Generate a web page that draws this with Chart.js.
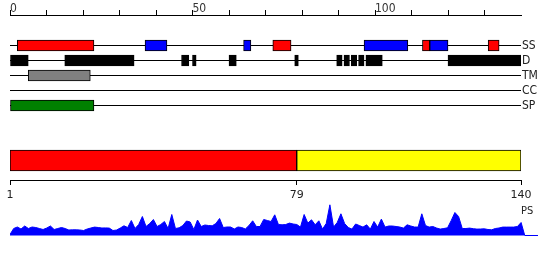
<!DOCTYPE html>
<html>
<head>
<meta charset="utf-8">
<script src="https://cdn.jsdelivr.net/npm/chart.js"></script>
<style>
  body { margin: 0; background: #fff; }
  #wrap { position: relative; width: 550px; height: 260px; }
  #wrap canvas { position: absolute; left: 0; }
  #psLabel { position: absolute; left: 521px; top: 205px; font: 11px 'DejaVu Sans Condensed', 'DejaVu Sans'; color: #222; line-height: 12px; }
</style>
</head>
<body>
<div id="wrap">
  <canvas id="tracks" width="550" height="120" style="top:0"></canvas>
  <canvas id="domains" width="550" height="65" style="top:140px"></canvas>
  <canvas id="ps" width="550" height="40" style="top:196px"></canvas>
  <div id="psLabel">PS</div>
</div>
<script>
// feature tracks (positions along the sequence)
const trackNames = ['SS', 'D', 'TM', 'CC', 'SP']
const ssSegments = [[2, 23], [37, 43], [64, 66], [72, 77], [97, 109], [113, 115], [115, 120], [131, 134]]
const ssColors = ['#ff0000', '#0000ff', '#0000ff', '#ff0000', '#0000ff', '#ff0000', '#0000ff', '#ff0000']
const dSegments = [[0, 5], [15, 34], [47, 49], [50, 51], [60, 62], [78, 79], [89.5, 91], [91.5, 93], [93.5, 95], [95.5, 97], [97.5, 102], [120, 140]]
const tmSegments = [[5, 22]]
const ccSegments = []
const spSegments = [[0, 23]]
const topTickValues = [0, 10, 20, 30, 40, 50, 60, 70, 80, 90, 100, 110, 120, 130]
const topLabelValues = [0, 50, 100]

// domain bar
const domainSegments = [[1, 79], [79, 140]]
const domainColors = ['#ff0000', '#ffff00']
const domainTicks = [1, 79, 140]

// PS profile, one value per residue 1..140
const psValues = [
  1, 7, 8.5, 6.5, 9.5, 7, 8.5, 8, 7, 6,
  7.5, 9.5, 6, 7, 8, 7, 5.5, 5.7, 5.7, 5.5,
  5, 6.5, 7.5, 8.4, 8, 7.5, 7.6, 7.4, 5, 5.5,
  7.5, 9.7, 8, 15, 7, 11, 19, 9, 12, 16,
  9, 11, 14, 7, 21, 7, 7.7, 10, 14.5, 13.5,
  6, 15.5, 9, 10.5, 10, 9.7, 12, 17, 8, 8.5,
  8.5, 6.5, 8.5, 8, 6.5, 10, 14.7, 9, 9, 16,
  15, 14, 20.7, 11, 10.7, 11, 12.4, 11.5, 11, 8.4,
  21, 12.4, 15.7, 10.7, 14.7, 6.4, 12, 30.7, 8.4, 13,
  21.7, 12, 8, 6.4, 11.5, 10, 8.4, 10.7, 6.4, 14,
  8.4, 16.4, 8.4, 9.5, 9.5, 9, 8.5, 7.4, 10.7, 9.5,
  8.5, 8.4, 21.7, 10, 8.4, 9, 7.5, 6.4, 7, 7.7,
  15, 23, 19, 7, 7, 7.4, 6.8, 6.4, 6.5, 6.7,
  6, 5.7, 7, 7.5, 8.4, 8.4, 8.4, 8.4, 9, 13
]
const psTail = [[141, 0], [144.6, 0]]

Chart.defaults.font.family = "'DejaVu Sans Condensed', 'DejaVu Sans', sans-serif"
Chart.defaults.animation = false
Chart.defaults.plugins.legend.display = false
Chart.defaults.plugins.tooltip.enabled = false

let tracks = [
  { segs: ssSegments, colors: ssColors },
  { segs: dSegments, colors: dSegments.map(() => '#000000') },
  { segs: tmSegments, colors: ['#808080'] },
  { segs: ccSegments, colors: [] },
  { segs: spSegments, colors: ['#008000'] }
]
let trackData = []
let trackColors = []
tracks.forEach((t, row) => {
  t.segs.forEach((s, i) => {
    trackData.push({ x: s, y: row })
    trackColors.push(t.colors[i])
  })
})

// drop the label overhang padding so the plot area stays where we put it
function noPad(s) {
  s.paddingTop = 0
  s.paddingBottom = 0
  s.paddingLeft = 0
  s.paddingRight = 0
}

new Chart(document.getElementById('tracks'), {
  type: 'bar',
  data: {
    datasets: [{
      data: trackData,
      backgroundColor: trackColors,
      borderColor: '#000',
      borderWidth: 1,
      borderSkipped: false,
      barThickness: 11
    }]
  },
  options: {
    responsive: false,
    devicePixelRatio: 1,
    indexAxis: 'y',
    layout: { padding: { left: 10, right: 0, top: 0, bottom: 0 } },
    scales: {
      x: {
        type: 'linear',
        position: 'top',
        min: 0,
        max: 140,
        afterBuildTicks: s => { s.ticks = topTickValues.map(v => ({ value: v })) },
        afterFit: s => { s.height = 15; noPad(s) },
        grid: { drawOnChartArea: false, color: '#000', tickLength: 5 },
        border: { color: '#000' },
        ticks: {
          autoSkip: false, maxRotation: 0, align: 'start', padding: -6,
          color: '#333', font: { size: 12 },
          callback: v => topLabelValues.includes(v) ? String(v) : ''
        }
      },
      y: {
        type: 'linear',
        position: 'right',
        reverse: true,
        min: -2.0333,
        max: 4.9667,
        offset: false,
        afterBuildTicks: s => { s.ticks = trackNames.map((n, i) => ({ value: i })) },
        afterFit: s => { s.width = 29; noPad(s) },
        grid: { offset: false, color: '#000', drawTicks: false },
        border: { display: false },
        ticks: { padding: 1, color: '#222', font: { size: 12 }, callback: v => trackNames[v] }
      }
    }
  }
})

// domains with residue axis
new Chart(document.getElementById('domains'), {
  type: 'bar',
  data: {
    datasets: [{
      data: domainSegments.map(s => ({ x: s, y: 0 })),
      backgroundColor: domainColors,
      borderColor: '#000',
      borderWidth: 1,
      borderSkipped: false,
      barThickness: 21
    }]
  },
  options: {
    responsive: false,
    devicePixelRatio: 1,
    indexAxis: 'y',
    layout: { padding: { left: 10, right: 29, top: 0, bottom: 0 } },
    scales: {
      x: {
        type: 'linear',
        position: 'bottom',
        min: 1,
        max: 140,
        afterBuildTicks: s => { s.ticks = domainTicks.map(v => ({ value: v })) },
        afterFit: s => { s.height = 25; noPad(s) },
        grid: { drawOnChartArea: false, color: '#000', tickLength: 5 },
        border: { color: '#000' },
        ticks: { autoSkip: false, maxRotation: 0, padding: 4, color: '#222', font: { family: "'DejaVu Sans', sans-serif", size: 11 } }
      },
      y: { type: 'linear', display: false, min: -0.975, max: 1.025, offset: false }
    }
  }
})

// PS profile
let psData = psValues.map((v, i) => ({ x: i + 1, y: v }))
psTail.forEach(p => psData.push({ x: p[0], y: p[1] }))

new Chart(document.getElementById('ps'), {
  type: 'line',
  data: {
    datasets: [{
      data: psData,
      borderColor: '#0000ff',
      backgroundColor: '#0000ff',
      borderWidth: 1,
      pointRadius: 0,
      tension: 0,
      fill: 'origin'
    }]
  },
  options: {
    responsive: false,
    devicePixelRatio: 1,
    layout: { padding: { left: 10, right: 12, top: 0, bottom: 0 } },
    scales: {
      x: { type: 'linear', display: false, min: 1, max: 144.6 },
      y: { type: 'linear', display: false, min: -0.5, max: 39.5 }
    }
  }
})
</script>
</body>
</html>
